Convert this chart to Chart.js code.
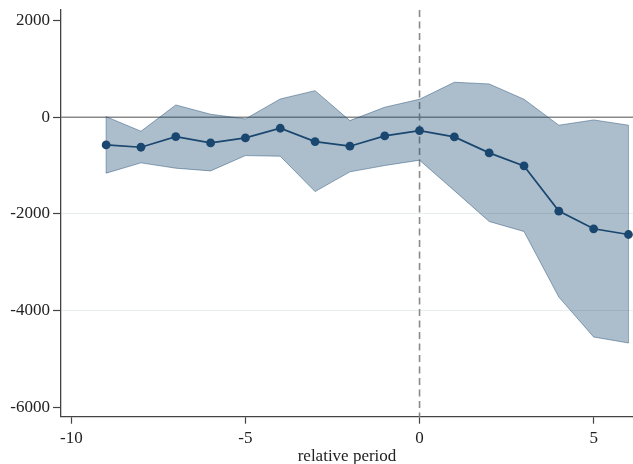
<!DOCTYPE html>
<html>
<head>
<meta charset="utf-8">
<script src="https://cdn.jsdelivr.net/npm/chart.js@4.4.1/dist/chart.umd.min.js"></script>
<style>
  html, body { margin: 0; padding: 0; background: #ffffff; }
  #wrap { width: 633px; height: 464px; }
</style>
</head>
<body>
<div id="wrap"><canvas id="c" width="633" height="464"></canvas></div>
<script>
// Event-study estimates by period relative to treatment
const periods = [-9, -8, -7, -6, -5, -4, -3, -2, -1, 0, 1, 2, 3, 4, 5, 6];
const coef    = [-573, -621, -401, -532, -428, -228, -504, -600, -387, -277, -407, -738, -1007, -1944, -2310, -2428];
const ciUpper = [12, -290, 254, 62, -35, 378, 550, -70, 207, 372, 724, 689, 372, -165, -56, -165];
const ciLower = [-1158, -945, -1055, -1111, -794, -807, -1539, -1131, -1000, -890, -1520, -2159, -2366, -3723, -4550, -4674];

// Axis ticks and reference lines
const xTicks = [-10, -5, 0, 5];
const yTicks = [-6000, -4000, -2000, 0, 2000];
const refX = 0;
const refY = 0;

const NAVY = 'rgb(26,71,111)';
const BAND = 'rgba(26,71,111,0.36)';
const BAND_EDGE = 'rgba(26,71,111,0.45)';
const SERIF = '"Liberation Serif", "Times New Roman", serif';

const pts = ys => periods.map((p, i) => ({ x: p, y: ys[i] }));
const first = 0, last = periods.length - 1;

const refLines = {
  id: 'refLines',
  beforeDatasetsDraw(chart) {
    const { ctx, chartArea, scales } = chart;
    const y0 = scales.y.getPixelForValue(refY);
    const x0 = scales.x.getPixelForValue(refX);
    ctx.save();
    ctx.strokeStyle = '#8a8a8a';
    ctx.lineWidth = 1.6;
    ctx.beginPath();
    ctx.moveTo(chartArea.left, y0);
    ctx.lineTo(chartArea.right, y0);
    ctx.stroke();
    ctx.setLineDash([7, 4.5]);
    ctx.beginPath();
    ctx.moveTo(x0, chartArea.top);
    ctx.lineTo(x0, chartArea.bottom);
    ctx.stroke();
    ctx.restore();
  }
};

new Chart(document.getElementById('c'), {
  type: 'line',
  data: {
    datasets: [
      {
        label: 'estimate',
        data: pts(coef),
        borderColor: NAVY,
        backgroundColor: NAVY,
        borderWidth: 1.7,
        pointRadius: 4.4,
        pointBorderWidth: 0,
        pointBackgroundColor: NAVY,
        fill: false,
        tension: 0
      },
      {
        label: 'upper',
        data: pts(ciUpper),
        borderColor: BAND_EDGE,
        borderWidth: 1,
        pointRadius: 0,
        backgroundColor: BAND,
        fill: '+1',
        tension: 0
      },
      {
        label: 'lower',
        data: pts(ciLower),
        borderColor: BAND_EDGE,
        borderWidth: 1,
        pointRadius: 0,
        fill: false,
        tension: 0
      },
      {
        label: 'left edge',
        data: [{ x: periods[first], y: ciLower[first] }, { x: periods[first], y: ciUpper[first] }],
        borderColor: BAND_EDGE,
        borderWidth: 1,
        pointRadius: 0,
        fill: false
      },
      {
        label: 'right edge',
        data: [{ x: periods[last], y: ciLower[last] }, { x: periods[last], y: ciUpper[last] }],
        borderColor: BAND_EDGE,
        borderWidth: 1,
        pointRadius: 0,
        fill: false
      }
    ]
  },
  options: {
    responsive: false,
    animation: false,
    layout: { autoPadding: false, padding: { top: 10, left: 0, right: 0, bottom: 0 } },
    plugins: {
      legend: { display: false },
      tooltip: { enabled: false }
    },
    scales: {
      x: {
        type: 'linear',
        min: -10.296,
        max: 6.13,
        afterBuildTicks: s => { s.ticks = xTicks.map(v => ({ value: v })); },
        afterFit: s => { s.height = 47.3; s.paddingLeft = 0; s.paddingRight = 0; },
        border: { display: true, color: '#444', width: 1.3 },
        grid: { drawOnChartArea: false, drawTicks: true, tickLength: 7, tickColor: '#444', tickWidth: 1.2 },
        ticks: {
          color: '#222',
          padding: 5,
          maxRotation: 0,
          autoSkip: false,
          callback: v => String(v),
          font: { family: SERIF, size: 17 }
        },
        title: {
          display: true,
          text: 'relative period',
          color: '#222',
          padding: { top: 0, bottom: -2.5 },
          font: { family: SERIF, size: 17 }
        }
      },
      y: {
        type: 'linear',
        min: -6200,
        max: 2220,
        afterBuildTicks: s => { s.ticks = yTicks.map(v => ({ value: v })); },
        afterFit: s => { s.width = 61; s.paddingTop = 0; s.paddingBottom = 0; },
        border: { display: true, color: '#444', width: 1.3 },
        grid: {
          drawTicks: true,
          tickLength: 8,
          tickColor: '#444',
          tickWidth: 1.2,
          color: c => (c.tick && (c.tick.value === -2000 || c.tick.value === -4000)) ? '#e6eef0' : 'rgba(0,0,0,0)',
          lineWidth: 1
        },
        ticks: {
          color: '#222',
          padding: 3,
          autoSkip: false,
          callback: v => String(v),
          font: { family: SERIF, size: 17 }
        }
      }
    }
  },
  plugins: [refLines]
});
</script>
</body>
</html>
